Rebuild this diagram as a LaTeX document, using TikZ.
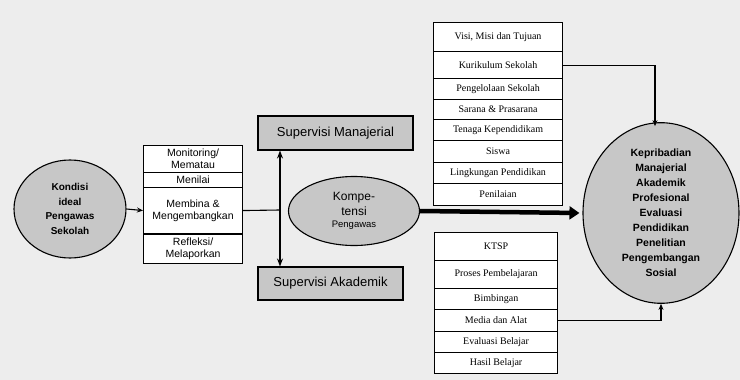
\documentclass[tikz,border=0pt]{standalone}
\usepackage{fontspec}
\setmainfont{Liberation Serif}
\setsansfont{Liberation Sans}
\usepackage{tikz}
\usetikzlibrary{shapes.geometric,arrows.meta}

\begin{document}
\begin{tikzpicture}[x=1pt,y=-1pt,line width=1.1pt,
  grayshape/.style={draw,fill=black!22},
  supbox/.style={grayshape,rectangle,inner sep=0pt,font=\sffamily\fontsize{13}{15}\selectfont},
  tugasbox/.style={draw,fill=white,rectangle,anchor=north west,minimum width=99pt,inner sep=0pt,align=center,font=\sffamily\fontsize{10.5}{12}\selectfont},
  aspekbox/.style={draw,fill=white,rectangle,anchor=north west,inner sep=0pt,font=\fontsize{10}{11}\selectfont},
  tip/.style={-{Stealth[length=6pt,width=5pt]}}
]
\useasboundingbox (0,0) rectangle (740,380);
\fill[black!7] (0,0) rectangle (740,380);

% left side
\node[grayshape,ellipse,minimum width=112pt,minimum height=98pt,inner sep=0pt,align=center,
  font=\sffamily\bfseries\fontsize{10}{14.5}\selectfont] (kondisi) at (70,209)
  {Kondisi\\ideal\\Pengawas\\Sekolah};
\foreach \t/\ya/\yb [count=\i] in {{Monitoring/\\Mematau}/145/172,Menilai/172/187,
  {Membina \&\\Mengembangkan}/187/233,{Refleksi/\\Melaporkan}/234/263}{
  \node[tugasbox,minimum height={\yb-\ya}] (tugas\i) at (143,\ya) {\t};
}
\draw[tip] (kondisi.east) -- (tugas3.west);

% supervisi
\node[supbox,minimum width=155pt,minimum height=34pt] (manaj) at (335.5,133) {Supervisi Manajerial};
\node[supbox,minimum width=145pt,minimum height=33pt] (akad) at (330.5,283.5) {Supervisi Akademik};
\coordinate (junc) at (280,210);
\draw (tugas3.east) -- (junc);
\draw[{Stealth[length=8pt,width=6pt]}-{Stealth[length=8pt,width=6pt]}] (manaj.south -| junc) -- (akad.north -| junc);

\node[grayshape,ellipse,minimum width=131pt,minimum height=69pt,inner sep=0pt,align=center,
  font=\sffamily\fontsize{12}{15}\selectfont] (komp) at (354,211)
  {Kompe-\\tensi\\[-3pt]{\fontsize{9.5}{10}\selectfont Pengawas}};

% right side
\node[grayshape,ellipse,minimum width=156pt,minimum height=180pt,inner sep=0pt,align=center,
  font=\sffamily\bfseries\fontsize{10.5}{15}\selectfont] (dimensi) at (661,213)
  {Kepribadian\\Manajerial\\Akademik\\Profesional\\Evaluasi\\Pendidikan\\Penelitian\\Pengembangan\\Sosial};
\draw[line width=4.5pt,-{Triangle[length=10pt,width=13pt]}] (komp.east) -- ([xshift=-3pt]dimensi.west);

\foreach \t/\ya/\yb [count=\i] in {{Visi, Misi dan Tujuan}/22/51,Kurikulum Sekolah/51/78,
  Pengelolaan Sekolah/78/99,Sarana \& Prasarana/99/119,Tenaga Kependidikam/119/140,
  Siswa/140/162,Lingkungan Pendidikan/162/183,Penilaian/183/205}{
  \node[aspekbox,minimum width=129pt,minimum height={\yb-\ya}] (manajer\i) at (433,\ya) {\t};
}
\foreach \t/\ya/\yb [count=\i] in {KTSP/232/260,Proses Pembelajaran/260/288,Bimbingan/288/309,
  Media dan Alat/309/331,Evaluasi Belajar/331/352,Hasil Belajar/352/373}{
  \node[aspekbox,minimum width=123pt,minimum height={\yb-\ya}] (akadem\i) at (434,\ya) {\t};
}
\draw[tip] (manajer2.east) -| ([xshift=-6pt,yshift=-4pt]dimensi.north);
\draw[tip] (akadem4.east) -| (dimensi.south);
\end{tikzpicture}
\end{document}
